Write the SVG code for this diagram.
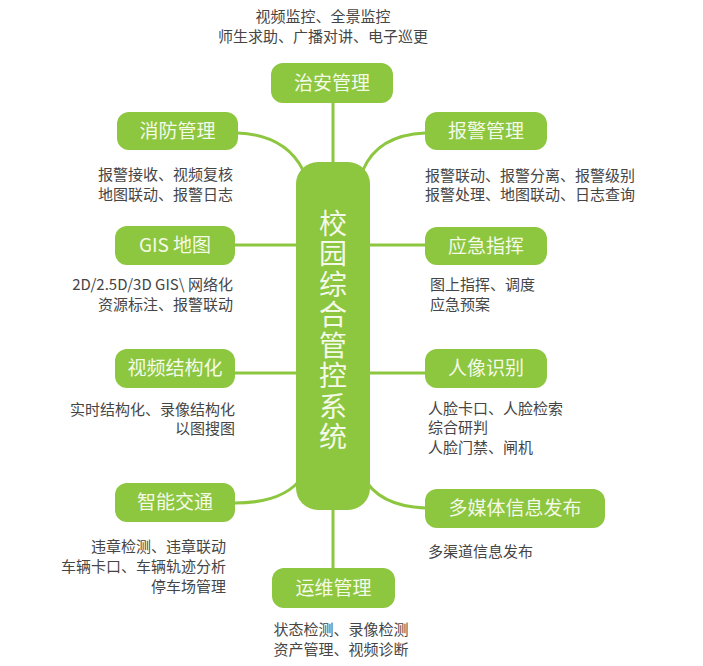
<svg xmlns="http://www.w3.org/2000/svg" width="703" height="666" viewBox="0 0 703 666">
<style>
.node rect{fill:#8dc63f}
.lbl{font-family:"Noto Sans CJK SC","Noto Sans",sans-serif;font-size:19px;fill:#f4fae8;text-anchor:middle}
.desc{font-family:"Noto Sans CJK SC","Noto Sans",sans-serif;font-size:15px;fill:#454545}
.c{fill:none;stroke:#8dc63f;stroke-width:3}
.center{font-family:"Noto Sans CJK SC","Noto Sans",sans-serif;font-size:28px;fill:#f4fae8;text-anchor:middle;writing-mode:vertical-rl;letter-spacing:2.5px}
</style>
<rect width="703" height="666" fill="#ffffff"/>
<g id="connectors">
<path class="c" d="M333,103 L333,165"/>
<path class="c" d="M333,505 L333,568"/>
<path class="c" d="M238,133 Q285,135 303,170"/>
<path class="c" d="M425,133 Q378,135 363,170"/>
<path class="c" d="M235,245 L300,245"/>
<path class="c" d="M425,245 L366,245"/>
<path class="c" d="M235,373 L300,373"/>
<path class="c" d="M425,373 L366,373"/>
<path class="c" d="M235,503 Q285,503 303,476"/>
<path class="c" d="M425,508 Q378,506 363,476"/>
</g>
<g id="center" class="node">
<rect x="296" y="162" width="74" height="348" rx="22"/>
<text class="center" x="333" y="331">校园综合管控系统</text>
</g>
<g id="n-zhian" class="node">
<text class="desc" text-anchor="middle"><tspan x="323" y="22">视频监控、全景监控</tspan><tspan x="323" y="42">师生求助、广播对讲、电子巡更</tspan></text>
<rect x="271" y="63" width="122" height="40" rx="12"/>
<text class="lbl" x="332" y="90">治安管理</text>
</g>
<g id="n-xiaofang" class="node">
<rect x="117" y="112" width="121" height="38" rx="12"/>
<text class="lbl" x="177.5" y="138">消防管理</text>
<text class="desc" text-anchor="end"><tspan x="233" y="180">报警接收、视频复核</tspan><tspan x="233" y="200">地图联动、报警日志</tspan></text>
</g>
<g id="n-gis" class="node">
<rect x="115" y="226" width="120" height="39" rx="12"/>
<text class="lbl" x="175" y="252">GIS 地图</text>
<text class="desc" text-anchor="end"><tspan x="233" y="290">2D/2.5D/3D GIS\ 网络化</tspan><tspan x="233" y="310">资源标注、报警联动</tspan></text>
</g>
<g id="n-shipin" class="node">
<rect x="115" y="349" width="120" height="39" rx="12"/>
<text class="lbl" x="175" y="375">视频结构化</text>
<text class="desc" text-anchor="end"><tspan x="235" y="415">实时结构化、录像结构化</tspan><tspan x="235" y="434">以图搜图</tspan></text>
</g>
<g id="n-jiaotong" class="node">
<rect x="115" y="483" width="120" height="39" rx="12"/>
<text class="lbl" x="175" y="509">智能交通</text>
<text class="desc" text-anchor="end"><tspan x="226" y="552">违章检测、违章联动</tspan><tspan x="226" y="572">车辆卡口、车辆轨迹分析</tspan><tspan x="226" y="592">停车场管理</tspan></text>
</g>
<g id="n-baojing" class="node">
<rect x="425" y="112" width="122" height="38" rx="12"/>
<text class="lbl" x="486" y="138">报警管理</text>
<text class="desc"><tspan x="425" y="181">报警联动、报警分离、报警级别</tspan><tspan x="425" y="200">报警处理、地图联动、日志查询</tspan></text>
</g>
<g id="n-yingji" class="node">
<rect x="425" y="227" width="122" height="38" rx="12"/>
<text class="lbl" x="486" y="253">应急指挥</text>
<text class="desc"><tspan x="430" y="290">图上指挥、调度</tspan><tspan x="430" y="310">应急预案</tspan></text>
</g>
<g id="n-renxiang" class="node">
<rect x="425" y="349" width="122" height="39" rx="12"/>
<text class="lbl" x="486" y="375">人像识别</text>
<text class="desc"><tspan x="428" y="414">人脸卡口、人脸检索</tspan><tspan x="428" y="433">综合研判</tspan><tspan x="428" y="453">人脸门禁、闸机</tspan></text>
</g>
<g id="n-duomeiti" class="node">
<rect x="425" y="489" width="180" height="39" rx="12"/>
<text class="lbl" x="515" y="515">多媒体信息发布</text>
<text class="desc" x="428" y="557">多渠道信息发布</text>
</g>
<g id="n-yunwei" class="node">
<rect x="272" y="568" width="123" height="40" rx="12"/>
<text class="lbl" x="333.5" y="595">运维管理</text>
<text class="desc" text-anchor="middle"><tspan x="341" y="635">状态检测、录像检测</tspan><tspan x="341" y="655">资产管理、视频诊断</tspan></text>
</g>
</svg>
